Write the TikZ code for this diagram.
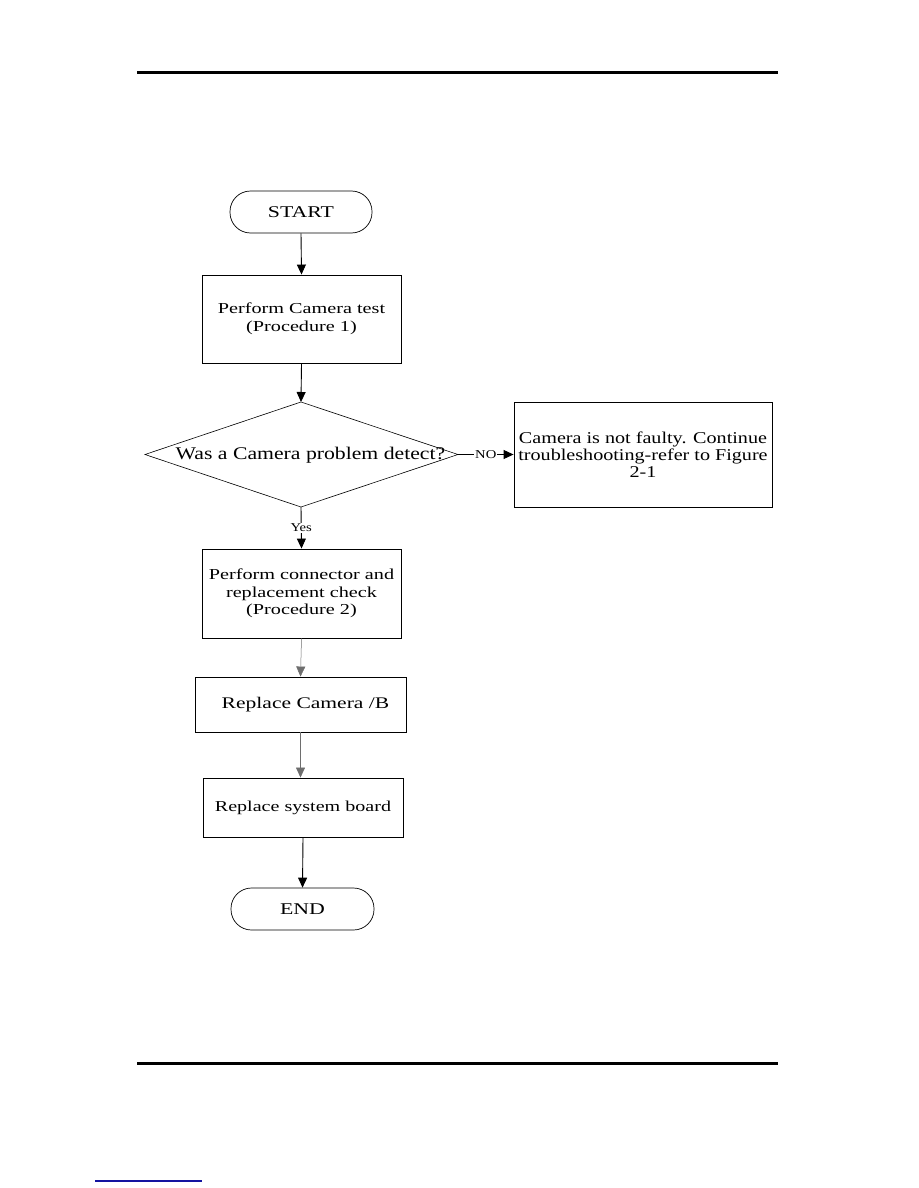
\documentclass[tikz,border=0pt]{standalone}
\usepackage{fontspec}
\setmainfont{Liberation Serif}
\newfontfamily\fboxfont{Liberation Serif}[FakeStretch=1.33]
\newfontfamily\fbigfont{Liberation Serif}[FakeStretch=1.22]
\usetikzlibrary{arrows.meta}
\definecolor{linkblue}{RGB}{20,20,160}
\definecolor{grayline}{RGB}{110,110,110}
\tikzset{
  procbox/.style={draw, line width=0.9pt, inner sep=0pt, align=center,
    font={\fboxfont\fontsize{15.2}{17.5}\selectfont}},
  termbox/.style={draw, line width=0.7pt, rounded corners=20.5pt, inner sep=0pt,
    minimum width=142pt, minimum height=42pt,
    font={\fboxfont\fontsize{16.4}{17.5}\selectfont}},
  flow/.style={-{Triangle[length=10pt,width=9pt]}, line width=0.9pt},
  grayflow/.style={-{Triangle[length=10pt,width=9pt]}, line width=0.5pt, draw=grayline},
  smalllabel/.style={fill=white, inner sep=1pt, font={\fbigfont\fontsize{12}{13}\selectfont}},
  rule/.style={line width=3pt},
}
\begin{document}
\begin{tikzpicture}[x=1pt,y=-1pt]
\useasboundingbox (0,0) rectangle (918,1188);
% page rules
\draw[rule] (137,73) -- (778,73);
\draw[rule] (137,1063) -- (778,1063);
\draw[linkblue, line width=1.5pt] (95,1181) -- (202,1181);

% nodes
\node[termbox] (start) at (301,212) {START};
\node[procbox, minimum width=199pt, minimum height=88pt] (p1) at (301.5,319)
  {Perform Camera test\\(Procedure 1)};
% decision diamond
\coordinate (decT) at (301,402);
\coordinate (decB) at (301,507);
\coordinate (decL) at (145,454.5);
\coordinate (decR) at (458,454.5);
\draw[line width=0.6pt] (decT) -- (decR) -- (decB) -- (decL) -- cycle;
\node[inner sep=0pt, font={\fbigfont\fontsize{17.8}{18}\selectfont}] (dec) at (310.5,455.5)
  {Was a Camera problem detect?};
\node[draw, line width=0.9pt, inner sep=0pt, minimum width=258pt, minimum height=105pt,
  align=center, font={\fbigfont\fontsize{16.5}{17}\selectfont}] (nf) at (643,454.5)
  {Camera is not faulty. Continue\\troubleshooting-refer to Figure\\2-1};
\node[procbox, minimum width=199pt, minimum height=89pt] (p2) at (301.5,593.5)
  {Perform connector and\\replacement check\\(Procedure 2)};
\node[procbox, minimum width=211pt, minimum height=55pt] (p3) at (300.5,704.5) {};
\node[font={\fboxfont\fontsize{16.2}{17.5}\selectfont}, inner sep=0pt] (p3t)
  at (305.5,704.5) {Replace Camera /B};
\node[procbox, minimum width=200pt, minimum height=59pt,
  font={\fboxfont\fontsize{15.1}{17.5}\selectfont}] (p4) at (303,807.5)
  {Replace system board};
\node[termbox, minimum width=143pt] (end) at (302.5,909) {END};

% connectors
\draw[flow] (start.south) -- (p1.north);
\draw[flow] (p1.south) -- (decT);
\draw[flow] (decR) -- node[smalllabel] {NO} (nf.west);
\draw[flow] (decB) -- node[smalllabel, pos=0.5] {Yes} (p2.north);
\draw[grayflow] (p2.south) -- (p3.north);
\draw[grayflow] (p3.south) -- (p4.north -| p3.south);
\draw[flow] (p4.south) -- (end.north);
\end{tikzpicture}
\end{document}
